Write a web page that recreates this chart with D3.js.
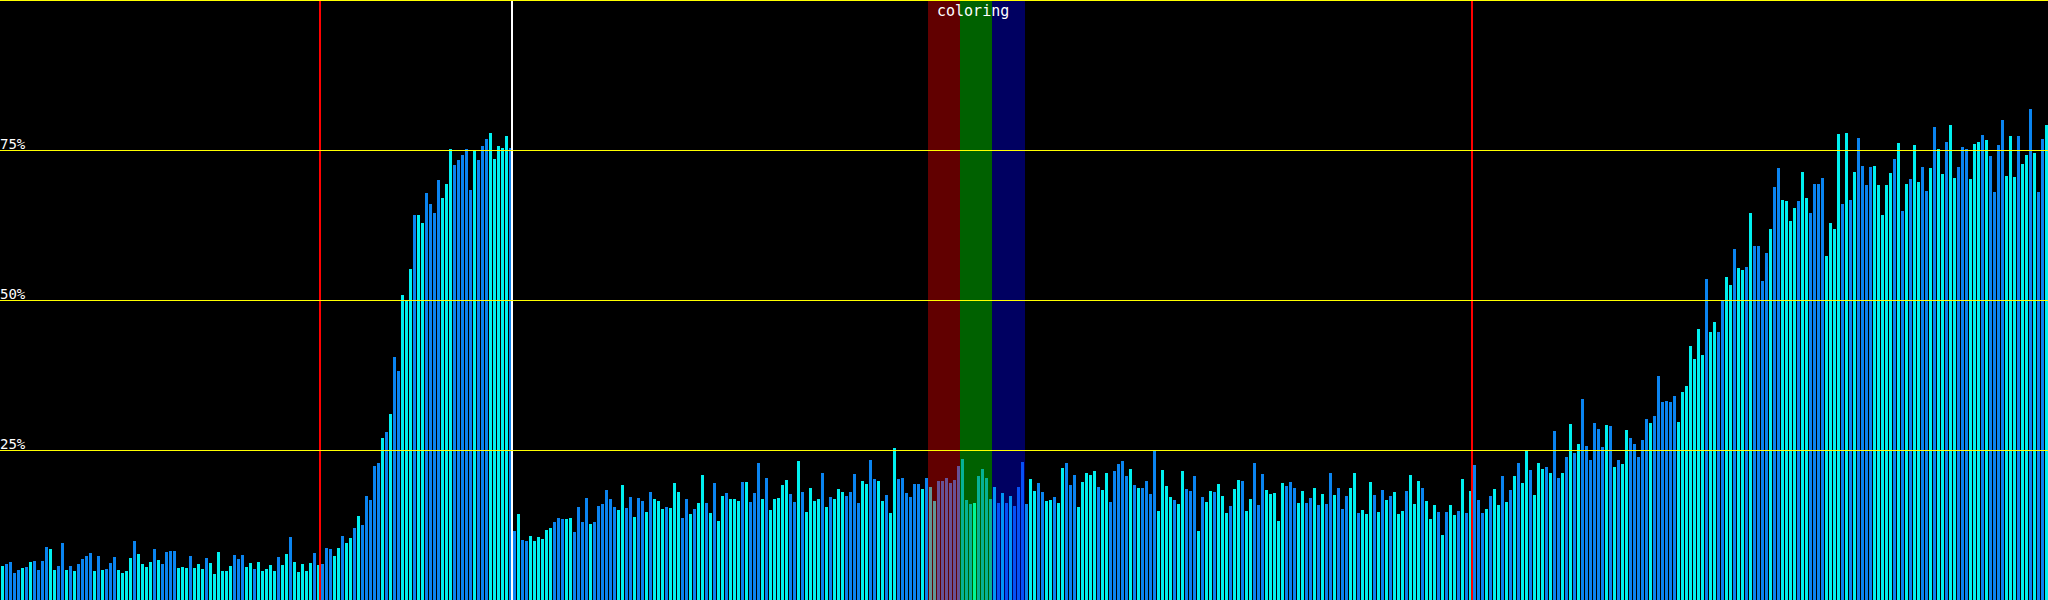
<!DOCTYPE html>
<html>
<head>
<meta charset="utf-8">
<script src="https://cdn.jsdelivr.net/npm/d3@7"></script>
<style>
  html, body { margin: 0; padding: 0; background: #000; overflow: hidden; }
  svg { display: block; }
</style>
</head>
<body>
<div class="chart"></div>
<script>
var svgWidth = 2048;
var svgHeight = 600;

// share per slot, percent
var shares = [
  5.67,6.0,6.33,4.5,5.0,5.33,5.5,6.33,6.5,5.0,
  6.5,8.83,8.5,5.0,5.67,9.5,5.0,5.67,4.83,6.0,
  6.83,7.33,7.83,4.83,7.33,5.0,5.17,6.17,7.17,5.0,
  4.5,4.83,7.0,9.83,7.67,6.0,5.5,6.33,8.5,6.67,
  6.0,8.0,8.17,8.17,5.33,5.5,5.33,7.33,5.33,6.0,
  5.17,7.0,6.17,4.33,8.0,4.83,4.83,5.67,7.5,6.83,
  7.5,5.5,6.17,5.17,6.33,4.83,5.17,5.83,4.83,7.17,
  5.83,7.67,10.5,6.33,4.67,6.0,4.83,6.17,7.83,5.83,
  6.0,8.67,8.5,7.33,8.67,10.67,9.5,10.33,12.0,14.0,
  12.5,17.33,16.67,22.33,22.83,27.0,28.0,31.0,40.5,38.17,
  50.83,50.0,55.17,64.17,64.17,62.83,67.83,66.0,64.5,70.0,
  67.0,69.33,75.17,72.5,73.33,74.17,75.17,68.33,75.0,73.33,
  75.67,76.83,77.83,73.5,75.67,75.33,77.33,75.33,11.5,14.33,
  10.0,9.83,10.67,9.83,10.5,10.17,11.67,12.0,13.0,13.67,
  13.5,13.5,13.67,11.33,15.5,13.0,17.0,12.67,13.0,15.67,
  16.0,18.33,16.83,15.5,15.0,19.17,15.33,17.17,13.83,17.0,
  16.5,14.67,18.0,16.83,16.5,15.17,15.5,15.33,19.5,18.0,
  13.67,16.83,14.33,15.17,16.17,20.83,16.17,14.5,19.5,13.17,
  17.33,17.83,16.83,16.83,16.5,19.67,19.67,16.33,17.83,22.83,
  16.83,20.33,15.0,16.83,17.0,19.17,20.0,17.67,16.33,23.17,
  18.0,14.67,18.67,16.5,16.83,21.17,15.5,17.17,16.83,18.5,
  18.0,17.33,18.0,21.0,16.17,19.83,19.33,23.33,20.17,19.83,
  16.5,17.5,14.5,25.33,20.17,20.33,17.83,17.17,19.33,19.33,
  18.5,20.33,18.83,16.5,19.83,19.83,20.33,19.5,20.0,22.33,
  23.5,16.67,16.0,16.17,20.67,21.83,20.33,16.83,18.83,16.17,
  17.83,16.17,17.33,15.67,18.83,23.0,16.0,20.17,18.17,19.5,
  18.0,16.5,16.67,17.17,16.17,22.0,22.83,19.17,20.83,15.5,
  19.67,21.17,20.83,21.5,18.83,18.33,21.17,16.33,21.5,22.67,
  23.17,20.67,21.83,19.17,18.67,18.67,19.83,17.67,24.83,14.83,
  21.67,19.0,17.17,16.67,16.0,21.5,18.5,18.17,20.67,11.5,
  17.17,16.33,18.17,18.0,19.33,17.33,14.5,15.67,18.5,20.0,
  19.83,14.83,16.83,22.83,15.83,21.0,18.33,17.67,17.83,13.17,
  19.5,19.0,19.67,18.67,16.17,18.17,16.17,17.0,18.67,15.83,
  17.67,16.0,21.17,17.5,18.67,15.17,17.33,18.67,21.17,14.5,
  15.0,14.33,19.67,17.5,14.67,18.33,16.67,17.33,18.0,14.33,
  14.83,18.17,20.83,16.0,19.83,18.67,16.5,13.5,15.83,14.67,
  10.83,14.67,15.83,14.17,14.83,20.17,14.5,18.17,22.5,16.67,
  14.5,15.17,17.33,18.5,15.83,20.67,16.33,18.33,20.67,22.83,
  19.5,25.0,21.67,17.5,22.83,21.83,22.17,21.17,28.17,20.33,
  21.17,23.83,29.33,24.5,26.0,33.5,25.67,23.33,29.5,28.5,
  25.5,29.17,29.0,22.17,23.33,22.67,28.33,27.0,26.0,23.83,
  26.67,30.17,29.5,30.67,37.33,33.0,33.17,33.0,34.0,29.67,
  34.67,35.67,42.33,40.17,45.17,40.83,53.5,44.67,46.33,44.67,
  49.83,53.83,52.5,58.5,55.33,55.0,55.5,64.5,59.0,59.0,
  53.17,57.83,61.83,68.83,72.0,66.67,66.5,63.17,65.33,66.5,
  71.33,67.0,64.5,69.33,69.33,70.33,57.33,62.83,61.83,77.67,
  66.0,77.83,66.67,71.33,77.0,72.33,69.17,72.17,72.33,69.17,
  64.17,69.17,71.17,73.5,76.17,64.83,69.33,70.17,75.83,69.67,
  72.17,68.17,72.0,78.83,75.17,71.0,76.33,79.17,70.33,72.17,
  75.5,75.17,70.17,76.0,76.33,77.5,76.67,74.0,68.0,75.83,
  80.0,70.67,77.33,70.5,77.33,72.67,74.17,81.83,74.5,68.0,76.83,79.17
];

// which tone each slot has: c = cyan, b = blue
var tones = (
  "cbbbbcbcbb" + "bbccbbcbcb" + "bbbcbcbbbc" + "cccbccccbc" + "bbbbcccbcc" +
  "cbccccccbb" + "bccbcccccb" + "ccbcccccbc" + "bbbccbccbc" + "bbbbbcbcbb" +
  "cccbccbbbb" + "cccbbbbbcb" + "bbcccccbbc" + "bbccccccbb" + "bccbbbbcbb" +
  "bbbbccbbcb" + "bcbcccbccc" + "bbcbccbcbc" + "cbcccbcbbb" + "cbcccccbbc" +
  "bccccbcbcc" + "cbbbbccbbc" + "cbccbbbbbb" + "cbccbbbbbb" + "bbbcbbbbcb" +
  "cbcbbbbccb" + "bccbccbbbc" + "ccccbccbbb" + "bbcbcbbbbc" + "cccbccbbbc" +
  "bccbcccbcc" + "bccbbbcccc" + "cbbbccbbcb" + "cbbcbbbccb" + "cccbcbcbcc" +
  "cbcccbcccb" + "cbccbcbcbb" + "bcbccbcbcb" + "ccbcccbcbb" + "cbcbcbbbbb" +
  "bcbcbccbbb" + "bbcbbbbbbc" + "ccccccbccb" + "bccbccbcbb" + "bbcbbccccb" +
  "ccbbbbcccc" + "bcbcbbbbcc" + "cccbcbcbcc" + "bbcbccbccb" + "bbcccbcbbb" +
  "bcccbccbcbbc"
).split("");

var toneColor = { c: "#00f0f0", b: "#0a84f0" };

// horizontal guides
var guideTicks = [25, 50, 75, 100];
var guideLabels = ["25%", "50%", "75%"];

// vertical markers, at slot boundaries
var markerSlots = [80, 368, 128];
var markerColors = ["#ff0000", "#ff0000", "#ffffff"];

// coloring bands, slot ranges
var bandStarts = [232, 240, 248];
var bandEnds = [240, 248, 256];
var bandColors = ["#ff0000", "#00ff00", "#0000ff"];

var svg = d3.select(".chart")
  .append("svg")
  .attr("width", svgWidth)
  .attr("height", svgHeight)
  .style("background", "#000");

var x = d3.scaleBand()
  .domain(d3.range(shares.length))
  .range([0, svgWidth]);

var y = d3.scaleLinear()
  .domain([0, 100])
  .range([svgHeight, 0]);

// bars
svg.append("g")
  .selectAll("rect")
  .data(shares)
  .enter()
  .append("rect")
  .attr("x", (d, i) => x(i) + 1)
  .attr("width", x.bandwidth() - 1)
  .attr("y", d => Math.round(y(d)))
  .attr("height", d => svgHeight - Math.round(y(d)))
  .attr("fill", (d, i) => toneColor[tones[i]])
  .attr("shape-rendering", "crispEdges");

// coloring bands, laid over the bars
svg.append("g")
  .selectAll("rect")
  .data(bandStarts)
  .enter()
  .append("rect")
  .attr("x", d => x(d))
  .attr("width", (d, i) => (bandEnds[i] < shares.length ? x(bandEnds[i]) : svgWidth) - x(d) + (i === 2 ? 1 : 0))
  .attr("y", 0)
  .attr("height", svgHeight)
  .attr("fill", (d, i) => bandColors[i])
  .attr("fill-opacity", 0.38)
  .attr("shape-rendering", "crispEdges");

// vertical markers
svg.append("g")
  .selectAll("rect")
  .data(markerSlots)
  .enter()
  .append("rect")
  .attr("x", d => x(d) - 1)
  .attr("width", 2)
  .attr("y", 0)
  .attr("height", svgHeight)
  .attr("fill", (d, i) => markerColors[i])
  .attr("shape-rendering", "crispEdges");

// guides
svg.append("g")
  .selectAll("rect")
  .data(guideTicks)
  .enter()
  .append("rect")
  .attr("x", 0)
  .attr("width", svgWidth)
  .attr("y", d => Math.min(y(d), svgHeight - 1))
  .attr("height", 1)
  .attr("fill", "#ffff00")
  .attr("shape-rendering", "crispEdges");

svg.append("g")
  .selectAll("text")
  .data(guideLabels)
  .enter()
  .append("text")
  .attr("x", 0)
  .attr("y", (d, i) => y(guideTicks[i]) - 1)
  .attr("fill", "#ffffff")
  .style("font-family", "'DejaVu Sans Mono', monospace")
  .style("font-size", "14px")
  .text(d => d);

svg.append("text")
  .attr("x", x(bandStarts[0]) + 9)
  .attr("y", 16)
  .attr("fill", "#ffffff")
  .style("font-family", "'DejaVu Sans Mono', monospace")
  .style("font-size", "15px")
  .text("coloring");
</script>
</body>
</html>
